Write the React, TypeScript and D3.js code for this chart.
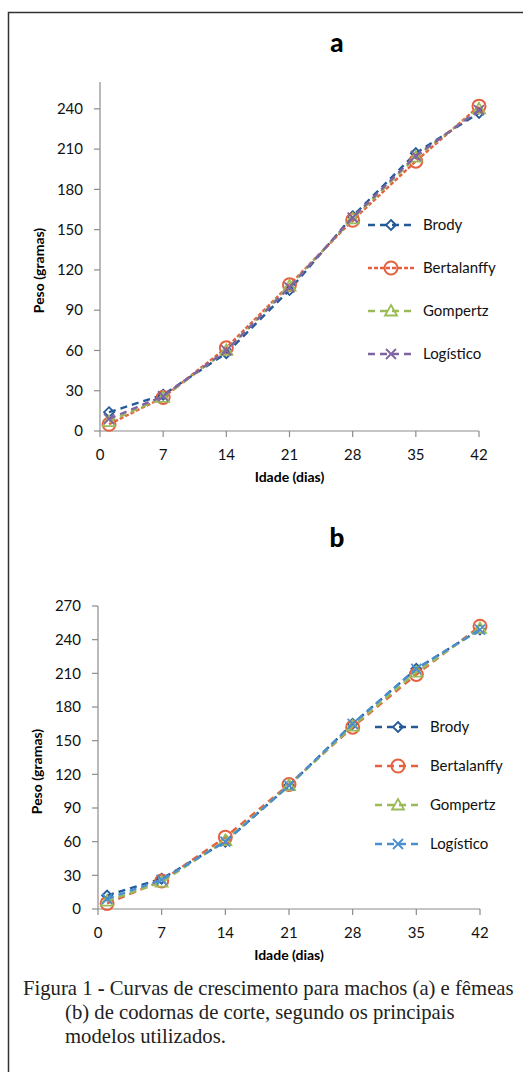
import * as d3 from 'd3';

const dias = [1, 7, 14, 21, 28, 35, 42];
const xTicks = [0, 7, 14, 21, 28, 35, 42];
const modelos = ['Brody', 'Bertalanffy', 'Gompertz', 'Logístico'];

// machos (a)
const brodyA = [14, 27, 58, 105, 160, 207, 237];
const bertA = [5, 25, 62, 109, 157, 201, 242];
const gompA = [7, 25, 60, 108, 158, 204, 240];
const logA = [9, 26, 60, 107, 159, 205, 239];
const yTicksA = [0, 30, 60, 90, 120, 150, 180, 210, 240];

// fêmeas (b)
const brodyB = [12, 27, 60, 110, 165, 214, 249];
const bertB = [5, 25, 64, 111, 162, 209, 252];
const gompB = [7, 24, 61, 110, 163, 211, 250];
const logB = [9, 26, 60, 110, 165, 214, 249];
const yTicksB = [0, 30, 60, 90, 120, 150, 180, 210, 240, 270];

const FONT = 'Lato, "Open Sans", sans-serif';
const AXIS = '#8c8c8c';

type Serie = { nome: string; valores: number[]; cor: string; dash: string; marker: string };

function Marker({ tipo, x, y, cor }: { tipo: string; x: number; y: number; cor: string }) {
  const sw = 1.8;
  if (tipo === 'circle') return <circle cx={x} cy={y} r={6.5} fill="none" stroke={cor} strokeWidth={2} />;
  if (tipo === 'diamond') {
    const s = 5;
    return <path d={`M${x},${y - s}L${x + s},${y}L${x},${y + s}L${x - s},${y}Z`} fill="none" stroke={cor} strokeWidth={sw} />;
  }
  if (tipo === 'triangle') {
    const s = 6;
    return <path d={`M${x},${y - s}L${x + s},${y + s * 0.75}L${x - s},${y + s * 0.75}Z`} fill="none" stroke={cor} strokeWidth={sw} />;
  }
  const s = 5;
  return <path d={`M${x - s},${y - s}L${x + s},${y + s}M${x - s},${y + s}L${x + s},${y - s}`} stroke={cor} strokeWidth={sw} />;
}

const markerTipo: Record<string, string> = {
  Brody: 'diamond',
  Bertalanffy: 'circle',
  Gompertz: 'triangle',
  'Logístico': 'x',
};

function Painel({
  titulo, top, x0, x1, y0, y1, yMax, yTicks, series, legX, legY, legGap,
}: {
  titulo: string; top: number; x0: number; x1: number; y0: number; y1: number; yMax: number;
  yTicks: number[]; series: Serie[]; legX: number; legY: number; legGap: number;
}) {
  const x = d3.scaleLinear().domain([0, 42]).range([x0, x1]);
  const y = d3.scaleLinear().domain([0, yMax]).range([y0, y1]);
  const line = d3.line<number>().x((_, i) => x(dias[i])).y((v) => y(v));

  return (
    <g>
      <text x={337} y={top} textAnchor="middle" fontFamily={FONT} fontWeight={900} fontSize={26}>{titulo}</text>
      {/* eixo y */}
      <line x1={x0} x2={x0} y1={y1} y2={y0} stroke={AXIS} strokeWidth={1.2} />
      {yTicks.map((t) => (
        <g key={t}>
          <line x1={x0 - 6} x2={x0} y1={y(t)} y2={y(t)} stroke={AXIS} strokeWidth={1.2} />
          <text x={x0 - 17} y={y(t)} dy="0.35em" textAnchor="end" fontFamily={FONT} fontSize={15} fill="#111">{t}</text>
        </g>
      ))}
      {/* eixo x */}
      <line x1={x0} x2={x1} y1={y0} y2={y0} stroke={AXIS} strokeWidth={1.2} />
      {xTicks.map((t) => (
        <g key={t}>
          <line x1={x(t)} x2={x(t)} y1={y0} y2={y0 + 6} stroke={AXIS} strokeWidth={1.2} />
          <text x={x(t)} y={y0 + 24} dy="0.35em" textAnchor="middle" fontFamily={FONT} fontSize={15} fill="#111">{t}</text>
        </g>
      ))}
      <text x={(x0 + x1) / 2} y={y0 + 46} dy="0.35em" textAnchor="middle" fontFamily={FONT} fontWeight={700} fontSize={14}>Idade (dias)</text>
      <text transform={`translate(${x0 - 61},${(y0 + y1) / 2 + 14}) rotate(-90)`} dy="0.35em" textAnchor="middle"
        fontFamily={FONT} fontWeight={700} fontSize={14}>Peso (gramas)</text>

      {series.map((s) => (
        <g key={s.nome}>
          <path d={line(s.valores) || ''} fill="none" stroke={s.cor} strokeWidth={2.4} strokeDasharray={s.dash} />
          {s.valores.map((v, i) => (
            <Marker key={i} tipo={markerTipo[s.nome]} x={x(dias[i])} y={y(v)} cor={s.cor} />
          ))}
        </g>
      ))}

      {series.map((s, i) => {
        const ly = legY + i * legGap;
        return (
          <g key={'leg' + s.nome}>
            <line x1={legX} x2={legX + 46} y1={ly} y2={ly} stroke={s.cor} strokeWidth={2.4} strokeDasharray={s.dash} />
            <Marker tipo={markerTipo[s.nome]} x={legX + 23} y={ly} cor={s.cor} />
            <text x={legX + 55} y={ly} dy="0.35em" fontFamily={FONT} fontSize={15} fill="#111">{s.nome}</text>
          </g>
        );
      })}
    </g>
  );
}

export default function App() {
  const coresA = ['#235a97', '#e5603f', '#9bbb59', '#8064a2'];
  const coresB = ['#235a97', '#e5603f', '#9bbb59', '#4a90d0'];
  const valsA = [brodyA, bertA, gompA, logA];
  const valsB = [brodyB, bertB, gompB, logB];
  const seriesA: Serie[] = modelos.map((m, i) => ({
    nome: m, valores: valsA[i], cor: coresA[i], dash: m === 'Bertalanffy' ? '4 2' : '7 5', marker: markerTipo[m],
  }));
  const seriesB: Serie[] = modelos.map((m, i) => ({
    nome: m, valores: valsB[i], cor: coresB[i], dash: '7 5', marker: markerTipo[m],
  }));

  return (
    <svg width={523} height={1072} style={{ position: 'absolute', left: 0, top: 0, background: '#fff' }}>
      <rect x={0} y={0} width={523} height={1072} fill="#fff" />
      <path d="M8.5,1072V12.5H523" fill="none" stroke="#333" strokeWidth={1.5} />
      <Painel titulo="a" top={52} x0={100} x1={479} y0={431} y1={82} yMax={260} yTicks={yTicksA}
        series={seriesA} legX={368} legY={225} legGap={43} />
      <Painel titulo="b" top={547} x0={98} x1={480} y0={909} y1={606} yMax={270} yTicks={yTicksB}
        series={seriesB} legX={375} legY={727} legGap={39} />
      <g fontFamily='"Liberation Serif", "Times New Roman", serif' fontSize={20.7} fill="#222">
        <text x={23} y={995}>Figura 1 <tspan fontWeight={700}>-</tspan> Curvas de crescimento para machos (a) e fêmeas</text>
        <text x={65} y={1019}>(b) de codornas de corte, segundo os principais</text>
        <text x={65} y={1043}>modelos utilizados.</text>
      </g>
    </svg>
  );
}
